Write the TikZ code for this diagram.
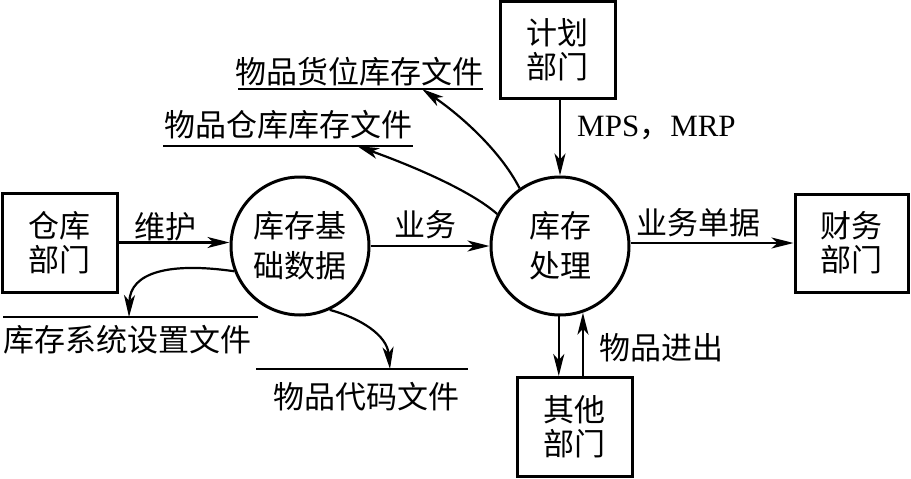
\documentclass[tikz,border=0pt]{standalone}
\usepackage{fontspec}
\setmainfont{Noto Sans CJK SC}
\newfontfamily\lat{Liberation Serif}
\usetikzlibrary{arrows.meta,calc}
\begin{document}
\begin{tikzpicture}[x=1pt,y=-1pt,
  every node/.style={font=\fontsize{31}{34}\selectfont, inner sep=0pt, align=center},
  box/.style={draw, line width=3pt, minimum width=115pt, minimum height=99pt},
  circ/.style={draw, circle, line width=3pt, minimum size=138pt, font=\fontsize{31}{40}\selectfont},
  arr/.style={line width=2.2pt, -{Stealth[length=22pt,width=11pt,inset=6pt]}},
  store/.style={line width=2.2pt}]
\useasboundingbox (0,0) rectangle (911,479);

% boxes and processes
\node[box] (b1) at (59.5,242.5) {仓库\\部门};
\node[box, minimum height=97pt] (p) at (557.5,50) {计划\\部门};
\node[box, minimum width=113pt, minimum height=98pt] (f) at (851.5,243) {财务\\部门};
\node[box] (o) at (574.5,427) {其他\\部门};
\node[circ] (c1) at (300,246) {库存基\\础数据};
\node[circ] (c2) at (560,246) {库存\\处理};

% data stores
\node (s1) at (359,72) {物品货位库存文件};
\coordinate (s1a) at (238,89); \coordinate (s1b) at (483,89); \coordinate (s1t) at (422,89);
\draw[store] (s1a) -- (s1b);
\node (s2) at (288,125) {物品仓库库存文件};
\coordinate (s2a) at (163,146); \coordinate (s2b) at (413,146); \coordinate (s2t) at (357,146);
\draw[store] (s2a) -- (s2b);
\node (s3) at (128,340) {库存系统设置文件};
\coordinate (s3a) at (3,317); \coordinate (s3b) at (258,317); \coordinate (s3t) at (129,317);
\draw[store] (s3a) -- (s3b);
\node (s4) at (366,397) {物品代码文件};
\coordinate (s4a) at (256,369); \coordinate (s4b) at (468,369); \coordinate (s4t) at (390,369);
\draw[store] (s4a) -- (s4b);

% flows
\draw[arr] (b1.east) -- (b1.east -| c1.west);
\node (l1) at (165,227) {维护};
\draw[arr] (c1.east) -- (c2.west);
\node (l2) at (425,225) {业务};
\draw[arr] (f.west -| c2.east) -- (f.west);
\node (l3) at (698.5,223) {业务单据};
\draw[arr] (c2.north |- p.south) -- (c2.north);
\node[anchor=west] (l4) at (577,128) {{\lat MPS}，{\lat MRP}};
\draw[arr] (c2.269) -- (c2.269 |- o.north);
\draw[arr] (c2.289 |- o.north) -- (c2.289);
\node (l5) at (661.5,348) {物品进出};

\draw[arr] (c2.125) .. controls (500,150) and (460,115) .. (s1t);
\draw[arr] (c2.153) .. controls (470,190) and (410,165) .. (s2t);
\draw[arr] (c1.201) .. controls (170,262) and (130,272) .. (s3t);
\draw[arr] (c1.295) .. controls (360,318) and (387,335) .. (s4t);
\end{tikzpicture}
\end{document}
